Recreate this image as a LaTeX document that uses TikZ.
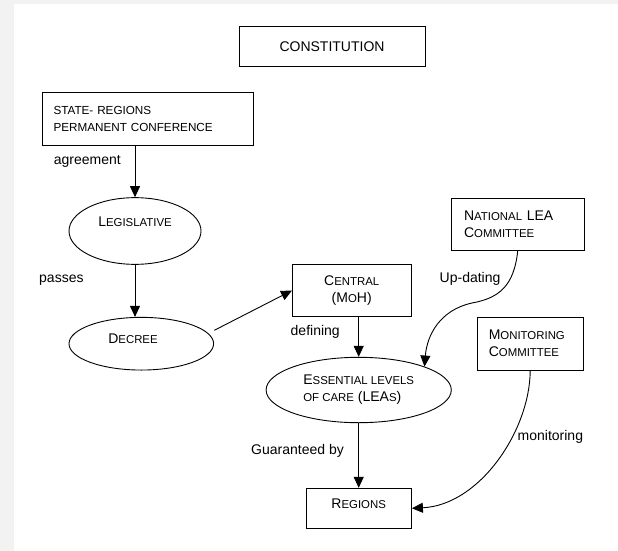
\documentclass[tikz,border=0pt]{standalone}
\usepackage{fontspec}
\setmainfont{Liberation Sans}
\usetikzlibrary{arrows.meta,shapes.geometric}
\newcommand\sm[1]{{\fontsize{11.4}{13}\selectfont #1}}
\begin{document}
\begin{tikzpicture}[x=1pt,y=-1pt,
 every node/.style={font=\fontsize{14}{17}\selectfont},
 box/.style={draw,line width=0.9pt,fill=white,inner sep=0pt},
 ell/.style={draw,ellipse,line width=0.9pt,fill=white,inner sep=0pt},
 arr/.style={line width=0.9pt,-{Triangle[length=11pt,width=10pt]}},
 lab/.style={anchor=base west,inner sep=0pt}]
\useasboundingbox (0,0) rectangle (618,551);
\fill[black!5] (0,0) rectangle (618,551);
\fill[white] (14,4) rectangle (618,551);

\node[box,minimum width=186,minimum height=40] (const) at (332,46.7) {CONSTITUTION};
\node[box,minimum height=53,text width=188,inner xsep=11.5,align=left,font=\fontsize{11.7}{17}\selectfont] (state) at (147.5,119.2) {STATE- REGIONS\\PERMANENT CONFERENCE};
\node[ell,minimum width=132,minimum height=66.7,label={[name=legt,yshift=9pt]center:L\sm{EGISLATIVE}}] (leg) at (135,231) {};
\node[ell,minimum width=144.6,minimum height=52.7,label={[name=dect,xshift=-8.3pt,yshift=5.4pt]center:D\sm{ECREE}}] (decree) at (141.3,343.7) {};
\node[box,minimum width=118.5,minimum height=52.4,align=center] (central) at (351.7,290.5) {C\sm{ENTRAL}\\(M\sm{O}H)};
\node[ell,minimum width=185.2,minimum height=65.4,align=left] (ess) at (358.7,390) {E\sm{SSENTIAL LEVELS}\\\sm{OF CARE} (LEA\sm{S})};
\node[box,minimum width=105.5,minimum height=40,label={[name=regt,yshift=5pt]center:R\sm{EGIONS}}] (reg) at (358.7,508.3) {};
\node[box,minimum height=52,text width=107.3,inner xsep=12.7,align=left] (nat) at (517.7,224.7) {N\sm{ATIONAL} LEA\\C\sm{OMMITTEE}};
\node[box,minimum height=52.7,text width=82.8,inner xsep=11.8,align=left] (mon) at (530.2,343.7) {M\sm{ONITORING}\\C\sm{OMMITTEE}};

\draw[arr] (state.south -| leg.north) -- (leg.north);
\draw[arr] (leg.south) -- (leg.south |- decree.north);
\draw[arr] ([xshift=10pt]decree.12) -- (central.west);
\draw[arr] (central.south -| ess.north) -- (ess.north);
\draw[arr] (ess.south) -- (reg.north);
\draw[arr] (nat.south) .. controls (514,285) and (500,298) .. (472,303) .. controls (440,310) and (427,335) .. (ess.north east);
\draw[arr] (mon.south) .. controls (530,430) and (480,505) .. (reg.east);

\node[lab] (lagr) at (53.6,164) {agreement};
\node[lab] (lpass) at (39,282) {passes};
\node[lab] (ldef) at (290.5,335) {defining};
\node[lab] (lupd) at (439.5,282) {Up-dating};
\node[lab] (lguar) at (251,454) {Guaranteed by};
\node[lab] (lmon) at (517.5,440) {monitoring};
\end{tikzpicture}
\end{document}
